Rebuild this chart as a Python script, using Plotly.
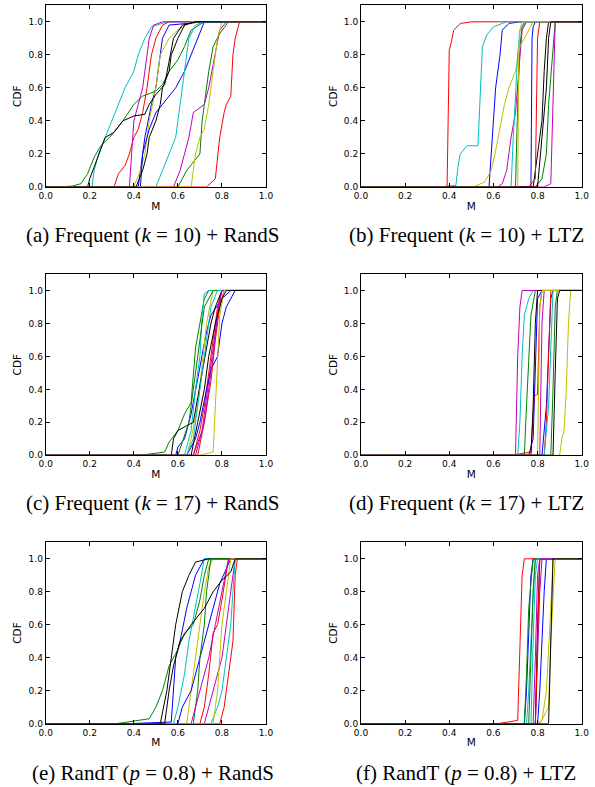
import plotly.graph_objects as go
from plotly.subplots import make_subplots

# colour cycle (matplotlib classic b, g, r, c, m, y, k), repeated twice per panel
CYCLE = ["#0000ff", "#008000", "#ff0000", "#00bfbf", "#bf00bf", "#bfbf00", "#000000"]

TICKS = [0.0, 0.2, 0.4, 0.6, 0.8, 1.0]
TICK_TEXT = ["0.0", "0.2", "0.4", "0.6", "0.8", "1.0"]

CAPTIONS = [
    "(a) Frequent (<i>k</i> = 10) + RandS",
    "(b) Frequent (<i>k</i> = 10) + LTZ",
    "(c) Frequent (<i>k</i> = 17) + RandS",
    "(d) Frequent (<i>k</i> = 17) + LTZ",
    "(e) RandT (<i>p</i> = 0.8) + RandS",
    "(f) RandT (<i>p</i> = 0.8) + LTZ",
]

# ---- panel (a) ----
A_M = [
    [0.42, 0.43, 0.45, 0.48, 0.50, 0.52, 0.53, 0.56, 0.72],
    [0.05, 0.12, 0.16, 0.19, 0.22, 0.25, 0.29, 0.35, 0.40, 0.44, 0.50, 0.53, 0.56, 0.60, 0.63, 0.66, 0.72],
    [0.31, 0.33, 0.36, 0.38, 0.40, 0.42, 0.44, 0.46, 0.48, 0.50, 0.53, 0.56],
    [0.21, 0.22, 0.24, 0.27, 0.30, 0.33, 0.36, 0.40, 0.42, 0.45, 0.48, 0.55],
    [0.38, 0.39, 0.40, 0.42, 0.44, 0.46, 0.47, 0.49, 0.53],
    [0.40, 0.43, 0.45, 0.47, 0.50, 0.52, 0.56, 0.60, 0.66],
    [0.19, 0.20, 0.22, 0.25, 0.27, 0.31, 0.35, 0.40, 0.45, 0.47, 0.50, 0.54, 0.56, 0.58, 0.62, 0.68],
    [0.43, 0.44, 0.47, 0.50, 0.53, 0.56, 0.59, 0.63, 0.66, 0.69, 0.72],
    [0.60, 0.64, 0.67, 0.70, 0.71, 0.72, 0.74, 0.76, 0.79, 0.83],
    [0.73, 0.77, 0.78, 0.79, 0.81, 0.82, 0.84, 0.85, 0.86, 0.88],
    [0.50, 0.53, 0.56, 0.59, 0.61, 0.63, 0.65, 0.68, 0.72],
    [0.58, 0.61, 0.63, 0.65, 0.67, 0.72, 0.74, 0.77, 0.79, 0.82],
    [0.66, 0.67, 0.68, 0.70, 0.72, 0.74, 0.76, 0.78, 0.80],
    [0.41, 0.44, 0.46, 0.47, 0.50, 0.52, 0.53, 0.56, 0.57, 0.60, 0.63, 0.68],
]
A_CDF = [
    [0, 0.1, 0.3, 0.5, 0.6, 0.8, 0.9, 0.98, 1.0],
    [0, 0.005, 0.02, 0.08, 0.18, 0.25, 0.3, 0.4, 0.5, 0.55, 0.58, 0.62, 0.7, 0.77, 0.85, 0.95, 1.0],
    [0, 0.08, 0.13, 0.2, 0.3, 0.35, 0.45, 0.6, 0.8, 0.9, 0.98, 1.0],
    [0, 0.1, 0.2, 0.3, 0.4, 0.5, 0.6, 0.7, 0.8, 0.9, 0.97, 1.0],
    [0, 0.2, 0.4, 0.5, 0.6, 0.8, 0.9, 0.98, 1.0],
    [0, 0.1, 0.2, 0.4, 0.6, 0.8, 0.9, 0.95, 1.0],
    [0, 0.05, 0.12, 0.22, 0.3, 0.33, 0.4, 0.43, 0.44, 0.5, 0.56, 0.62, 0.75, 0.9, 0.98, 1.0],
    [0, 0.2, 0.35, 0.45, 0.5, 0.55, 0.6, 0.7, 0.8, 0.9, 1.0],
    [0, 0.1, 0.15, 0.2, 0.4, 0.5, 0.7, 0.85, 0.93, 1.0],
    [0, 0.05, 0.2, 0.3, 0.45, 0.5, 0.55, 0.8, 0.9, 1.0],
    [0, 0.1, 0.2, 0.3, 0.5, 0.7, 0.9, 0.98, 1.0],
    [0, 0.1, 0.2, 0.3, 0.45, 0.5, 0.6, 0.8, 0.95, 1.0],
    [0, 0.1, 0.2, 0.3, 0.35, 0.5, 0.7, 0.9, 1.0],
    [0, 0.1, 0.2, 0.3, 0.4, 0.5, 0.6, 0.7, 0.8, 0.9, 0.98, 1.0],
]

# ---- panel (b) ----
B_M = [
    [0.58, 0.59, 0.60, 0.61, 0.63, 0.64, 0.67, 0.72],
    [0.70, 0.71, 0.72, 0.73, 0.75],
    [0.39, 0.40, 0.41, 0.42, 0.45, 0.50],
    [0.35, 0.43, 0.44, 0.45, 0.48, 0.53, 0.54, 0.55, 0.57, 0.60, 0.66],
    [0.62, 0.64, 0.66, 0.67, 0.68, 0.70, 0.71, 0.72, 0.73, 0.75],
    [0.51, 0.56, 0.59, 0.61, 0.63, 0.65, 0.67, 0.70, 0.72, 0.75, 0.78],
    [0.78, 0.79, 0.80, 0.82, 0.83, 0.84, 0.85],
    [0.77, 0.775, 0.78, 0.79],
    [0.79, 0.82, 0.84, 0.85, 0.87, 0.88],
    [0.76, 0.79, 0.80, 0.81],
    [0.68, 0.69, 0.70, 0.71, 0.72, 0.74],
    [0.83, 0.86, 0.87, 0.88],
    [0.71, 0.715, 0.72, 0.73],
    [0.80, 0.82, 0.84, 0.85, 0.86],
]
B_CDF = [
    [0, 0.2, 0.4, 0.6, 0.8, 0.95, 0.99, 1.0],
    [0, 0.5, 0.85, 0.97, 1.0],
    [0, 0.83, 0.88, 0.95, 0.99, 1.0],
    [0, 0.01, 0.13, 0.2, 0.25, 0.25, 0.6, 0.85, 0.92, 0.97, 1.0],
    [0, 0.02, 0.1, 0.2, 0.3, 0.45, 0.6, 0.8, 0.95, 1.0],
    [0, 0.03, 0.1, 0.22, 0.35, 0.5, 0.6, 0.7, 0.85, 0.93, 1.0],
    [0, 0.1, 0.2, 0.4, 0.7, 0.9, 1.0],
    [0, 0.9, 0.97, 1.0],
    [0, 0.05, 0.2, 0.5, 0.8, 1.0],
    [0, 0.05, 0.9, 1.0],
    [0, 0.3, 0.6, 0.8, 0.95, 1.0],
    [0, 0.02, 0.5, 1.0],
    [0, 0.8, 0.95, 1.0],
    [0, 0.3, 0.6, 0.9, 1.0],
]

# ---- panel (c) ----
C_M = [
    [0.59, 0.60, 0.63, 0.66, 0.68, 0.70, 0.73, 0.75, 0.80, 0.84],
    [0.43, 0.54, 0.56, 0.60, 0.63, 0.66, 0.67, 0.68, 0.70, 0.72, 0.74],
    [0.67, 0.70, 0.72, 0.74, 0.76, 0.78, 0.80],
    [0.63, 0.66, 0.68, 0.70, 0.71, 0.72, 0.74],
    [0.67, 0.71, 0.73, 0.75, 0.77, 0.79, 0.80],
    [0.64, 0.66, 0.69, 0.71, 0.73, 0.76],
    [0.57, 0.58, 0.60, 0.64, 0.67, 0.69, 0.71, 0.73, 0.75, 0.77, 0.80],
    [0.64, 0.68, 0.70, 0.73, 0.75, 0.78, 0.80, 0.82, 0.86],
    [0.60, 0.65, 0.67, 0.70, 0.72, 0.76],
    [0.69, 0.72, 0.75, 0.77, 0.79, 0.81],
    [0.64, 0.67, 0.69, 0.71, 0.73, 0.75, 0.78],
    [0.68, 0.72, 0.74, 0.76, 0.78, 0.80],
    [0.70, 0.76, 0.77, 0.78, 0.79, 0.81],
    [0.66, 0.69, 0.72, 0.74, 0.77, 0.80, 0.82],
]
C_CDF = [
    [0, 0.05, 0.1, 0.25, 0.4, 0.55, 0.75, 0.85, 0.95, 1.0],
    [0, 0.02, 0.08, 0.15, 0.25, 0.32, 0.5, 0.65, 0.8, 0.95, 1.0],
    [0, 0.15, 0.3, 0.5, 0.7, 0.9, 1.0],
    [0, 0.15, 0.4, 0.6, 0.85, 0.98, 1.0],
    [0, 0.15, 0.35, 0.55, 0.75, 0.95, 1.0],
    [0, 0.1, 0.3, 0.55, 0.8, 1.0],
    [0, 0.1, 0.15, 0.18, 0.2, 0.35, 0.5, 0.65, 0.8, 0.9, 1.0],
    [0, 0.1, 0.2, 0.4, 0.52, 0.6, 0.8, 0.9, 1.0],
    [0, 0.2, 0.4, 0.7, 0.9, 1.0],
    [0, 0.2, 0.45, 0.7, 0.9, 1.0],
    [0, 0.1, 0.3, 0.5, 0.7, 0.9, 1.0],
    [0, 0.2, 0.4, 0.6, 0.85, 1.0],
    [0, 0.02, 0.3, 0.6, 0.85, 1.0],
    [0, 0.2, 0.4, 0.6, 0.8, 0.95, 1.0],
]

# ---- panel (d) ----
D_M = [
    [0.76, 0.78, 0.79, 0.80, 0.82],
    [0.74, 0.75, 0.76, 0.77, 0.79],
    [0.68, 0.77, 0.785, 0.80, 0.805, 0.81, 0.82],
    [0.71, 0.72, 0.73, 0.74, 0.76, 0.78],
    [0.70, 0.71, 0.72, 0.73],
    [0.90, 0.91, 0.92, 0.93, 0.94, 0.95],
    [0.77, 0.78, 0.79, 0.80],
    [0.82, 0.84, 0.85, 0.86, 0.87],
    [0.86, 0.87, 0.88, 0.89],
    [0.83, 0.84, 0.85, 0.86],
    [0.83, 0.85, 0.86, 0.87],
    [0.81, 0.82, 0.83],
    [0.80, 0.81, 0.82],
    [0.87, 0.88, 0.89, 0.90],
]
D_CDF = [
    [0, 0.1, 0.6, 0.95, 1.0],
    [0, 0.3, 0.6, 0.85, 1.0],
    [0, 0.02, 0.36, 0.37, 0.6, 0.9, 1.0],
    [0, 0.2, 0.6, 0.85, 0.95, 1.0],
    [0, 0.6, 0.9, 1.0],
    [0, 0.1, 0.15, 0.4, 0.8, 1.0],
    [0, 0.3, 0.8, 1.0],
    [0, 0.3, 0.6, 0.95, 1.0],
    [0, 0.4, 0.9, 1.0],
    [0, 0.2, 0.6, 1.0],
    [0, 0.3, 0.7, 1.0],
    [0, 0.8, 1.0],
    [0, 0.9, 1.0],
    [0, 0.5, 0.95, 1.0],
]

# ---- panel (e) ----
E_M = [
    [0.37, 0.57, 0.58, 0.59, 0.61, 0.64, 0.66, 0.68, 0.72],
    [0.32, 0.47, 0.50, 0.53, 0.56, 0.60, 0.63, 0.67, 0.70, 0.72, 0.74],
    [0.70, 0.72, 0.74, 0.76, 0.78, 0.80, 0.82, 0.83],
    [0.58, 0.60, 0.63, 0.65, 0.68, 0.70, 0.72],
    [0.72, 0.74, 0.76, 0.78, 0.80, 0.82, 0.84, 0.86],
    [0.64, 0.66, 0.68, 0.70, 0.72, 0.74, 0.76],
    [0.52, 0.55, 0.57, 0.59, 0.62, 0.65, 0.68, 0.74],
    [0.60, 0.62, 0.66, 0.70, 0.72, 0.76, 0.79, 0.84],
    [0.67, 0.69, 0.70, 0.72, 0.73, 0.75],
    [0.79, 0.81, 0.83, 0.85, 0.86, 0.87],
    [0.75, 0.78, 0.80, 0.82, 0.84, 0.85, 0.86],
    [0.66, 0.68, 0.70, 0.74, 0.77, 0.80, 0.83],
    [0.76, 0.78, 0.79, 0.80, 0.82, 0.84],
    [0.54, 0.56, 0.58, 0.61, 0.66, 0.72, 0.76, 0.80, 0.84, 0.86],
]
E_CDF = [
    [0, 0.01, 0.2, 0.4, 0.5, 0.7, 0.8, 0.9, 1.0],
    [0, 0.03, 0.1, 0.2, 0.35, 0.45, 0.55, 0.6, 0.75, 0.9, 1.0],
    [0, 0.1, 0.3, 0.55, 0.6, 0.75, 0.9, 1.0],
    [0, 0.1, 0.3, 0.5, 0.7, 0.85, 1.0],
    [0, 0.1, 0.2, 0.3, 0.4, 0.6, 0.8, 1.0],
    [0, 0.2, 0.4, 0.6, 0.8, 0.95, 1.0],
    [0, 0.2, 0.4, 0.6, 0.8, 0.9, 0.98, 1.0],
    [0, 0.1, 0.2, 0.4, 0.5, 0.7, 0.85, 1.0],
    [0, 0.2, 0.4, 0.6, 0.8, 1.0],
    [0, 0.1, 0.3, 0.5, 0.9, 1.0],
    [0, 0.1, 0.2, 0.4, 0.6, 0.8, 1.0],
    [0, 0.1, 0.2, 0.4, 0.6, 0.8, 1.0],
    [0, 0.2, 0.4, 0.6, 0.8, 1.0],
    [0, 0.2, 0.35, 0.5, 0.6, 0.7, 0.8, 0.87, 0.92, 1.0],
]

# ---- panel (f) ----
F_M = [
    [0.74, 0.75, 0.76, 0.77, 0.78],
    [0.74, 0.75, 0.76, 0.77, 0.78],
    [0.62, 0.71, 0.72, 0.73, 0.74],
    [0.75, 0.76, 0.77, 0.78, 0.79],
    [0.79, 0.80, 0.81, 0.82],
    [0.80, 0.82, 0.84, 0.86, 0.87],
    [0.79, 0.80, 0.81],
    [0.80, 0.81, 0.82, 0.83, 0.84],
    [0.76, 0.77, 0.78, 0.79],
    [0.79, 0.80, 0.81],
    [0.77, 0.78, 0.79, 0.80],
    [0.78, 0.79, 0.80, 0.81],
    [0.81, 0.85, 0.86, 0.88],
    [0.85, 0.86, 0.87],
]
F_CDF = [
    [0, 0.2, 0.5, 0.9, 1.0],
    [0, 0.3, 0.7, 0.85, 1.0],
    [0, 0.02, 0.4, 0.9, 1.0],
    [0, 0.2, 0.55, 0.8, 1.0],
    [0, 0.4, 0.8, 1.0],
    [0, 0.02, 0.2, 0.7, 1.0],
    [0, 0.6, 1.0],
    [0, 0.2, 0.5, 0.8, 1.0],
    [0, 0.4, 0.8, 1.0],
    [0, 0.5, 1.0],
    [0, 0.5, 0.9, 1.0],
    [0, 0.4, 0.9, 1.0],
    [0, 0.1, 0.5, 1.0],
    [0, 0.5, 1.0],
]

PANELS = [(A_M, A_CDF), (B_M, B_CDF), (C_M, C_CDF), (D_M, D_CDF), (E_M, E_CDF), (F_M, F_CDF)]

W, H = 595, 787
# pixel geometry of the axes boxes
X_DOM_PX = [(45.7, 266.0), (361.0, 581.7)]
Y_DOM_PX = [(5.3, 187.0), (274.0, 455.3), (542.3, 723.7)]
CAP_X_PX = [153, 466]
CAP_Y_PX = [235, 503, 773]

fig = make_subplots(rows=3, cols=2)

for p, (ms, cdfs) in enumerate(PANELS):
    row, col = p // 2 + 1, p % 2 + 1
    for i, (m, c) in enumerate(zip(ms, cdfs)):
        fig.add_trace(
            go.Scatter(
                x=[0.0] + m + [1.0],
                y=[0.0] + c + [1.0],
                mode="lines",
                line=dict(color=CYCLE[i % 7], width=1),
                showlegend=False,
                hoverinfo="skip",
            ),
            row=row, col=col,
        )

tickfont = dict(family="DejaVu Sans", size=9, color="black")
titlefont = dict(family="DejaVu Sans", size=10.5, color="black")

for p in range(6):
    r, c = p // 2, p % 2
    xd = [X_DOM_PX[c][0] / W, X_DOM_PX[c][1] / W]
    yd = [1 - Y_DOM_PX[r][1] / H, 1 - Y_DOM_PX[r][0] / H]
    sfx = "" if p == 0 else str(p + 1)
    fig.layout["xaxis" + sfx].update(
        domain=xd, range=[0, 1], tickvals=TICKS, ticktext=TICK_TEXT,
        ticks="inside", ticklen=4, tickwidth=0.8, tickcolor="black",
        showline=True, linecolor="black", linewidth=1, mirror="allticks",
        showgrid=False, zeroline=False, tickfont=tickfont, automargin=False,
        title=dict(text="M", font=titlefont, standoff=2),
    )
    fig.layout["yaxis" + sfx].update(
        domain=yd, range=[0, 1.1], tickvals=TICKS, ticktext=TICK_TEXT,
        ticks="inside", ticklen=4, tickwidth=0.8, tickcolor="black",
        showline=True, linecolor="black", linewidth=1, mirror="allticks",
        showgrid=False, zeroline=False, tickfont=tickfont, automargin=False,
        title=dict(text="CDF", font=titlefont, standoff=4),
    )
    fig.add_annotation(
        text=CAPTIONS[p], xref="paper", yref="paper",
        x=CAP_X_PX[c] / W, y=1 - CAP_Y_PX[r] / H,
        xanchor="center", yanchor="middle", showarrow=False,
        font=dict(family="Liberation Serif", size=21, color="black"),
    )

fig.update_layout(
    width=W, height=H, margin=dict(l=0, r=0, t=0, b=0),
    paper_bgcolor="white", plot_bgcolor="white",
)

fig.write_html(
    "out.html",
    config={"displayModeBar": False},
    post_script="document.body.style.margin='0';document.body.style.overflow='hidden';",
)
